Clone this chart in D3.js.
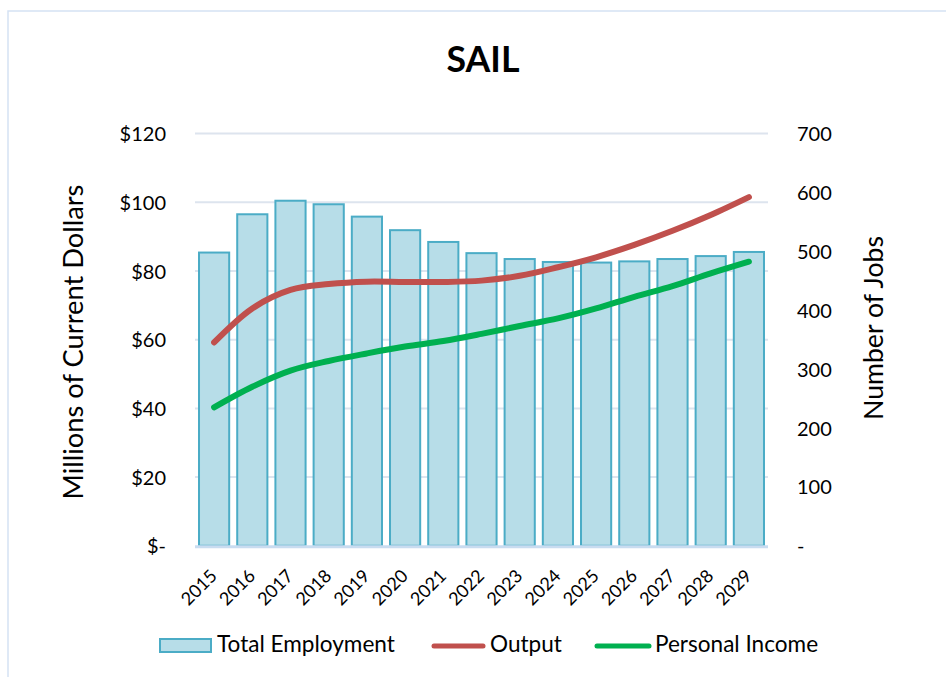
<!DOCTYPE html>
<html><head><meta charset="utf-8">
<script src="https://cdn.jsdelivr.net/npm/d3@7"></script>
<style>body{margin:0;background:#fff}svg{display:block;font-family:Lato,"Noto Sans",sans-serif}</style>
</head><body>
<svg id="c" width="946" height="677"></svg>
<script>
const years = ["2015","2016","2017","2018","2019","2020","2021","2022","2023","2024","2025","2026","2027","2028","2029"];
const totalEmployment = [498,563,586,580,559,536,516,497,487,482,481,483,487,492,499];
const output = [59.2,69.1,74.5,76.2,76.9,76.8,76.8,77.2,78.6,81.1,84.0,87.6,91.7,96.3,101.5];
const personalIncome = [40.3,46.3,51.0,53.8,56.0,58.0,59.6,61.7,64.0,66.2,69.1,72.5,75.6,79.3,82.7];
const leftTicks = [0,20,40,60,80,100,120];
const rightTicks = [0,100,200,300,400,500,600,700];
const legendItems = ["Total Employment","Output","Personal Income"];

const svg = d3.select("#c");
const X0 = 195, X1 = 768, YT = 133.6, YB = 545.8;

function fit(sel, target){
  const n = sel.node();
  const fs = parseFloat(sel.attr("font-size"));
  const w = n.getComputedTextLength();
  const nf = fs * target / w;
  sel.attr("font-size", nf);
  return nf;
}

// border
svg.append("rect").attr("x",8).attr("y",11).attr("width",960).attr("height",700)
  .attr("fill","none").attr("stroke","#D5E2F4").attr("stroke-width",1.5);

const x = d3.scaleBand().domain(years).range([X0,X1]).paddingInner(0.21).paddingOuter(0.105);
const yL = d3.scaleLinear().domain([0,120]).range([YB,YT]);
const yR = d3.scaleLinear().domain([0,700]).range([YB,YT]);

// gridlines
svg.append("g").selectAll("line").data(leftTicks.filter(d=>d>0)).join("line")
  .attr("x1",X0).attr("x2",X1).attr("y1",d=>yL(d)).attr("y2",d=>yL(d))
  .attr("stroke","#DDE4EE").attr("stroke-width",2);

// bars
svg.append("g").selectAll("rect").data(totalEmployment).join("rect")
  .attr("x",(d,i)=>x(years[i])).attr("width",x.bandwidth())
  .attr("y",d=>yR(d)).attr("height",d=>YB-yR(d))
  .attr("fill","#B7DDE8").attr("stroke","#4BACC6").attr("stroke-width",2);

// baseline
svg.append("line").attr("x1",X0).attr("x2",X1).attr("y1",YB+1).attr("y2",YB+1)
  .attr("stroke","#C9DCF0").attr("stroke-width",3);

// lines
const line = d3.line().x((d,i)=>x(years[i])+x.bandwidth()/2).y(d=>yL(d)).curve(d3.curveCatmullRom.alpha(0.5));
svg.append("path").datum(output).attr("d",line).attr("fill","none")
  .attr("stroke","#C0504D").attr("stroke-width",6).attr("stroke-linecap","round").attr("stroke-linejoin","round");
svg.append("path").datum(personalIncome).attr("d",line).attr("fill","none")
  .attr("stroke","#00B050").attr("stroke-width",6).attr("stroke-linecap","round").attr("stroke-linejoin","round");

// left axis
const axL = d3.axisLeft(yL).tickValues(leftTicks).tickSize(0).tickPadding(0)
  .tickFormat(d=> d===0 ? "$-" : "$"+d);
const gL = svg.append("g").attr("transform","translate(166,0)").call(axL);
gL.select(".domain").remove();
gL.selectAll("text").attr("font-size",20).attr("fill","#000").attr("font-family","Lato,'Noto Sans',sans-serif").attr("dy","0.35em");

// right axis
const axR = d3.axisRight(yR).tickValues(rightTicks).tickSize(0).tickPadding(0)
  .tickFormat(d=> d===0 ? "-" : String(d));
const gR = svg.append("g").attr("transform","translate(797,0)").call(axR);
gR.select(".domain").remove();
gR.selectAll("text").attr("font-size",20).attr("fill","#000").attr("font-family","Lato,'Noto Sans',sans-serif").attr("dy","0.35em");

// x labels
const axX = d3.axisBottom(x).tickSize(0).tickPadding(0);
const gX = svg.append("g").call(axX);
gX.select(".domain").remove();
gX.selectAll(".tick").attr("transform",d=>`translate(${x(d)+x.bandwidth()/2+4},577)`);
gX.selectAll("text").attr("font-size",18).attr("fill","#000").attr("font-family","Lato,'Noto Sans',sans-serif")
  .attr("y",0).attr("dy",0).attr("text-anchor","end").attr("transform","rotate(-45)");

// title
const t = svg.append("text").attr("x",483).attr("y",72).attr("text-anchor","middle")
  .attr("font-weight","bold").attr("font-size",36).text("SAIL");
fit(t, 73);

// axis titles
const lt = svg.append("text").attr("transform","translate(83,342) rotate(-90)").attr("text-anchor","middle")
  .attr("font-size",25).text("Millions of Current Dollars");
fit(lt, 315);
const rt = svg.append("text").attr("transform","translate(883,328) rotate(-90)").attr("text-anchor","middle")
  .attr("font-size",25).text("Number of Jobs");
fit(rt, 184);

// legend
const lg = svg.append("g");
lg.append("rect").attr("x",160).attr("y",639).attr("width",51).attr("height",13)
  .attr("fill","#B7DDE8").attr("stroke","#4BACC6").attr("stroke-width",2);
const l1 = lg.append("text").attr("x",217).attr("y",652).attr("font-size",20).text(legendItems[0]);
const fsLeg = fit(l1, 178);
lg.append("line").attr("x1",434).attr("x2",483).attr("y1",646).attr("y2",646)
  .attr("stroke","#C0504D").attr("stroke-width",5).attr("stroke-linecap","round");
lg.append("text").attr("x",490).attr("y",652).attr("font-size",fsLeg).text(legendItems[1]);
lg.append("line").attr("x1",597).attr("x2",649).attr("y1",646).attr("y2",646)
  .attr("stroke","#00B050").attr("stroke-width",5).attr("stroke-linecap","round");
lg.append("text").attr("x",655).attr("y",652).attr("font-size",fsLeg).text(legendItems[2]);
</script>
</body></html>
